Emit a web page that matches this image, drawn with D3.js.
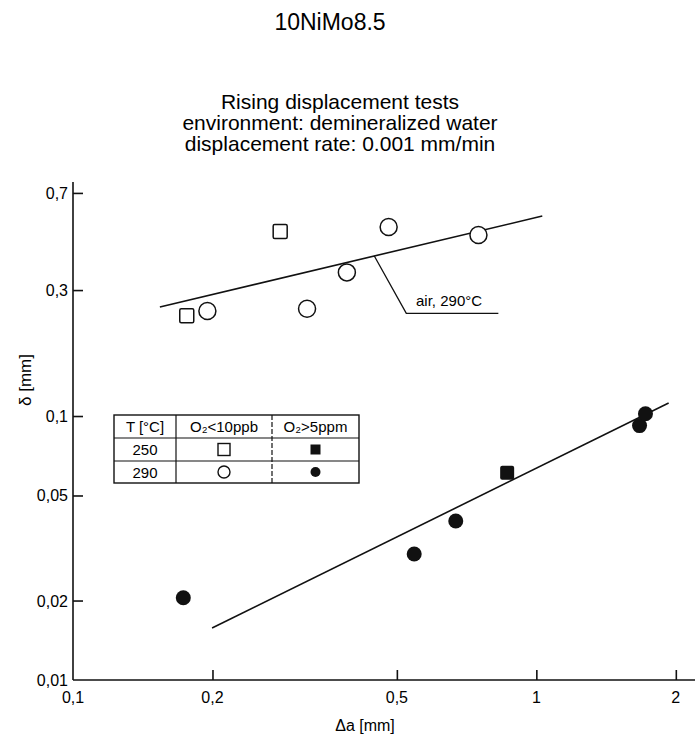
<!DOCTYPE html>
<html>
<head>
<meta charset="utf-8">
<script src="https://cdn.jsdelivr.net/npm/d3@7"></script>
<style>
  body { margin: 0; background: #fff; }
  svg { font-family: "Liberation Sans", Arial, sans-serif; }
</style>
</head>
<body>
<div id="chart"></div>
<script>
// values
const xTicks = [0.2, 0.5, 1, 2];
const xTickLabels = ['0,2', '0,5', '1', '2'];
const yTicks = [0.02, 0.05, 0.1, 0.3, 0.7];
const yTickLabels = ['0,02', '0,05', '0,1', '0,3', '0,7'];

// 250 °C, O2 < 10 ppb
const openSquareX = [0.176, 0.28];
const openSquareY = [0.24, 0.50];
// 290 °C, O2 < 10 ppb
const openCircleX = [0.195, 0.32, 0.39, 0.48, 0.75];
const openCircleY = [0.25, 0.255, 0.35, 0.52, 0.485];
// 250 °C, O2 > 5 ppm
const filledSquareX = [0.865];
const filledSquareY = [0.061];
// 290 °C, O2 > 5 ppm
const filledCircleX = [0.173, 0.545, 0.67, 1.67, 1.72];
const filledCircleY = [0.0205, 0.030, 0.040, 0.092, 0.102];

// fitted lines
const airLineX = [0.154, 1.03];
const airLineY = [0.259, 0.572];
const waterLineX = [0.1996, 1.93];
const waterLineY = [0.01574, 0.112];

// leader for the "air, 290°C" label
const leaderX = [0.447, 0.524, 0.828];
const leaderY = [0.404, 0.245, 0.245];

const width = 698, height = 741;

const svg = d3.select('#chart').append('svg')
  .attr('width', width)
  .attr('height', height);

const x = d3.scaleLog().domain([0.1, 2.2]).range([73, 695]);
const y = d3.scaleLog().domain([0.01, 0.77]).range([680, 182]);

// titles
svg.append('text')
  .attr('x', 330).attr('y', 30)
  .attr('text-anchor', 'middle')
  .style('font-size', '23px')
  .text('10NiMo8.5');

const subtitle = ['Rising displacement tests',
  'environment: demineralized water',
  'displacement rate: 0.001 mm/min'];
svg.append('g').selectAll('text')
  .data(subtitle)
  .join('text')
  .attr('x', 340)
  .attr('y', (d, i) => 109 + i * 21)
  .attr('text-anchor', 'middle')
  .style('font-size', '21px')
  .text(d => d);

// axes
const xAxis = svg.append('g')
  .attr('transform', `translate(0,${y(0.01)})`)
  .call(d3.axisTop(x).tickValues(xTicks).tickSize(10).tickFormat(''));
xAxis.select('.domain').attr('d', `M${x.range()[0]},0H${x.range()[1]}`);

const yAxis = svg.append('g')
  .attr('transform', `translate(${x(0.1)},0)`)
  .call(d3.axisRight(y).tickValues(yTicks).tickSize(10).tickFormat(''));
yAxis.select('.domain').attr('d', `M0,${y.range()[0]}V${y.range()[1]}`);

svg.selectAll('.domain, .tick line')
  .attr('stroke', '#111')
  .attr('stroke-width', 1.6);

// tick labels
svg.append('g').selectAll('text')
  .data(xTicks.concat([0.1]))
  .join('text')
  .attr('x', d => x(d))
  .attr('y', 703)
  .attr('text-anchor', 'middle')
  .style('font-size', '16px')
  .text((d, i) => i < xTicks.length ? xTickLabels[i] : '0,1');

svg.append('g').selectAll('text')
  .data(yTicks.concat([0.01]))
  .join('text')
  .attr('x', 68)
  .attr('y', d => y(d) + 6)
  .attr('text-anchor', 'end')
  .style('font-size', '16px')
  .text((d, i) => i < yTicks.length ? yTickLabels[i] : '0,01');

svg.append('text')
  .attr('x', 365).attr('y', 731)
  .attr('text-anchor', 'middle')
  .style('font-size', '16px')
  .text('Δa [mm]');

svg.append('text')
  .attr('transform', 'translate(31,380) rotate(-90)')
  .attr('text-anchor', 'middle')
  .style('font-size', '17px')
  .text('δ [mm]');

// fit lines
const line = d3.line().x(d => x(d[0])).y(d => y(d[1]));
svg.append('path')
  .attr('d', line(d3.zip(airLineX, airLineY)))
  .attr('fill', 'none').attr('stroke', '#111').attr('stroke-width', 1.6);
svg.append('path')
  .attr('d', line(d3.zip(waterLineX, waterLineY)))
  .attr('fill', 'none').attr('stroke', '#111').attr('stroke-width', 1.6);
svg.append('path')
  .attr('d', line(d3.zip(leaderX, leaderY)))
  .attr('fill', 'none').attr('stroke', '#111').attr('stroke-width', 1.3);
svg.append('text')
  .attr('x', x(0.55)).attr('y', y(0.245) - 7)
  .style('font-size', '15px')
  .text('air, 290°C');

// markers
const sq = 14;
svg.append('g').selectAll('rect')
  .data(d3.zip(openSquareX, openSquareY))
  .join('rect')
  .attr('x', d => x(d[0]) - sq / 2).attr('y', d => y(d[1]) - sq / 2)
  .attr('width', sq).attr('height', sq).attr('rx', 1.5)
  .attr('fill', '#fff').attr('stroke', '#111').attr('stroke-width', 1.5);

svg.append('g').selectAll('circle')
  .data(d3.zip(openCircleX, openCircleY))
  .join('circle')
  .attr('cx', d => x(d[0])).attr('cy', d => y(d[1])).attr('r', 8.5)
  .attr('fill', '#fff').attr('stroke', '#111').attr('stroke-width', 1.5);

svg.append('g').selectAll('rect')
  .data(d3.zip(filledSquareX, filledSquareY))
  .join('rect')
  .attr('x', d => x(d[0]) - 7).attr('y', d => y(d[1]) - 7)
  .attr('width', 14).attr('height', 14).attr('rx', 2)
  .attr('fill', '#111');

svg.append('g').selectAll('circle')
  .data(d3.zip(filledCircleX, filledCircleY))
  .join('circle')
  .attr('cx', d => x(d[0])).attr('cy', d => y(d[1])).attr('r', 7.5)
  .attr('fill', '#111');

// legend table
const tbl = svg.append('g').attr('transform', 'translate(114,415)');
const colX = [0, 62, 158, 245];
const rowY = [0, 23, 46, 68];
tbl.append('rect')
  .attr('width', colX[3]).attr('height', rowY[3])
  .attr('fill', '#fff').attr('stroke', '#111').attr('stroke-width', 1.4);
tbl.selectAll('.hl')
  .data(rowY.slice(1, 3))
  .join('line')
  .attr('x1', 0).attr('x2', colX[3])
  .attr('y1', d => d).attr('y2', d => d)
  .attr('stroke', '#111').attr('stroke-width', 1.2);
tbl.selectAll('.vl')
  .data(colX.slice(1, 3))
  .join('line')
  .attr('x1', d => d).attr('x2', d => d)
  .attr('y1', 0).attr('y2', rowY[3])
  .attr('stroke', '#111').attr('stroke-width', 1.2)
  .attr('stroke-dasharray', (d, i) => i === 1 ? '5,2' : null);

const head = ['T [°C]', 'O₂<10ppb', 'O₂>5ppm'];
tbl.selectAll('.head')
  .data(head)
  .join('text')
  .attr('x', (d, i) => (colX[i] + colX[i + 1]) / 2)
  .attr('y', 17)
  .attr('text-anchor', 'middle')
  .style('font-size', '15px')
  .text(d => d);
tbl.selectAll('.temp')
  .data(['250', '290'])
  .join('text')
  .attr('x', (colX[0] + colX[1]) / 2)
  .attr('y', (d, i) => rowY[i + 1] + 17)
  .attr('text-anchor', 'middle')
  .style('font-size', '15px')
  .text(d => d);

const c2 = (colX[1] + colX[2]) / 2, c3 = (colX[2] + colX[3]) / 2;
const r1 = (rowY[1] + rowY[2]) / 2, r2 = (rowY[2] + rowY[3]) / 2;
tbl.append('rect').attr('x', c2 - 6).attr('y', r1 - 6).attr('width', 12).attr('height', 12)
  .attr('fill', '#fff').attr('stroke', '#111').attr('stroke-width', 1.4);
tbl.append('rect').attr('x', c3 - 5).attr('y', r1 - 5).attr('width', 10).attr('height', 10)
  .attr('fill', '#111');
tbl.append('circle').attr('cx', c2).attr('cy', r2).attr('r', 6)
  .attr('fill', '#fff').attr('stroke', '#111').attr('stroke-width', 1.4);
tbl.append('circle').attr('cx', c3).attr('cy', r2).attr('r', 5)
  .attr('fill', '#111');
</script>
</body>
</html>
